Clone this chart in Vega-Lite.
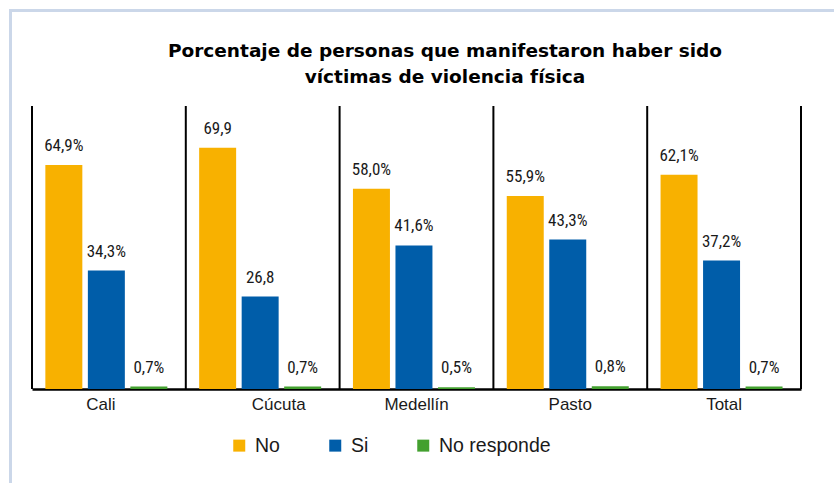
{
  "$schema": "https://vega.github.io/schema/vega-lite/v6.json",
  "width": 828,
  "height": 476,
  "autosize": "none",
  "padding": {"left": 10.5, "top": 10.5, "right": -4.5, "bottom": -3.5},
  "background": "white",
  "config": {
    "view": {"stroke": "#CBD7E9", "strokeWidth": 3},
    "axisX": {
      "title": null, "orient": "bottom", "offset": -97.5, "ticks": false, "grid": false,
      "domainColor": "black", "domainWidth": 2.5,
      "labelFont": "Liberation Sans", "labelFontSize": 17, "labelColor": "#1a1a1a",
      "labelPadding": 7, "labelAngle": 0
    }
  },
  "title": {
    "text": ["Porcentaje de personas que manifestaron haber sido", "víctimas de violencia física"],
    "font": "DejaVu Sans",
    "fontWeight": "bold",
    "fontSize": 18.5,
    "lineHeight": 26,
    "anchor": "middle",
    "frame": "group",
    "offset": -75.5,
    "dx": 20.5,
    "color": "black"
  },
  "datasets": {
    "bars": [
      {"city": "Cali", "cat": "No", "value": 64.9, "label": "64,9%"},
      {"city": "Cali", "cat": "Si", "value": 34.3, "label": "34,3%"},
      {"city": "Cali", "cat": "No responde", "value": 0.7, "label": "0,7%"},
      {"city": "Cúcuta", "cat": "No", "value": 69.9, "label": "69,9"},
      {"city": "Cúcuta", "cat": "Si", "value": 26.8, "label": "26,8"},
      {"city": "Cúcuta", "cat": "No responde", "value": 0.7, "label": "0,7%"},
      {"city": "Medellín", "cat": "No", "value": 58.0, "label": "58,0%"},
      {"city": "Medellín", "cat": "Si", "value": 41.6, "label": "41,6%"},
      {"city": "Medellín", "cat": "No responde", "value": 0.5, "label": "0,5%"},
      {"city": "Pasto", "cat": "No", "value": 55.9, "label": "55,9%"},
      {"city": "Pasto", "cat": "Si", "value": 43.3, "label": "43,3%"},
      {"city": "Pasto", "cat": "No responde", "value": 0.8, "label": "0,8%"},
      {"city": "Total", "cat": "No", "value": 62.1, "label": "62,1%"},
      {"city": "Total", "cat": "Si", "value": 37.2, "label": "37,2%"},
      {"city": "Total", "cat": "No responde", "value": 0.7, "label": "0,7%"}
    ],
    "cities": [
      {"city": "Cali"}, {"city": "Cúcuta"}, {"city": "Medellín"}, {"city": "Pasto"}, {"city": "Total"}
    ],
    "last": [{"city": "Total"}]
  },
  "layer": [
    {
      "data": {"name": "bars"},
      "mark": {"type": "bar"},
      "encoding": {
        "x": {
          "field": "city", "type": "nominal", "title": null,
          "sort": ["Cali", "Cúcuta", "Medellín", "Pasto", "Total"],
          "scale": {"range": [21.5, 790.5], "paddingInner": 0, "paddingOuter": 0},
          "axis": {
            "labelOffset": {"condition": [{"test": "datum.value === 'Cali'", "value": -8}, {"test": "datum.value === 'Cúcuta'", "value": 16}], "value": 0}
          }
        },
        "xOffset": {
          "field": "cat", "type": "nominal", "sort": ["No", "Si", "No responde"],
          "scale": {"paddingInner": 0.13, "paddingOuter": 0.374, "align": 0.42}
        },
        "y": {
          "field": "value", "type": "quantitative",
          "scale": {"domain": [0, 82], "range": [378.5, 95.5], "nice": false},
          "axis": null
        },
        "color": {
          "field": "cat", "type": "nominal",
          "scale": {"domain": ["No", "Si", "No responde"], "range": ["#F8B100", "#005DA9", "#43A02F"]},
          "legend": {
            "title": null, "orient": "none", "legendX": 219, "legendY": 425,
            "direction": "horizontal", "columns": 3,
            "symbolType": "square", "symbolSize": 144, "symbolStrokeWidth": 0,
            "labelFont": "Liberation Sans", "labelFontSize": 19.5, "labelColor": "#1a1a1a",
            "labelOffset": 6, "columnPadding": 45
          }
        }
      }
    },
    {
      "data": {"name": "bars"},
      "mark": {"type": "text", "font": "Liberation Sans Narrow, Roboto Condensed, DejaVu Sans Condensed, Liberation Sans", "fontSize": 17, "fontWeight": "normal", "dy": -19, "baseline": "middle", "color": "#1a1a1a"},
      "encoding": {
        "x": {
          "field": "city", "type": "nominal", "title": null, "sort": ["Cali", "Cúcuta", "Medellín", "Pasto", "Total"],
          "axis": {
            "labelOffset": {"condition": [{"test": "datum.value === 'Cali'", "value": -8}, {"test": "datum.value === 'Cúcuta'", "value": 16}], "value": 0}
          }
        },
        "xOffset": {"field": "cat", "type": "nominal", "sort": ["No", "Si", "No responde"]},
        "y": {"field": "value", "type": "quantitative", "axis": null},
        "text": {"field": "label"}
      }
    },
    {
      "data": {"name": "cities"},
      "mark": {"type": "rule", "color": "black", "strokeWidth": 2},
      "encoding": {
        "x": {
          "field": "city", "type": "nominal", "title": null, "bandPosition": 0, "sort": ["Cali", "Cúcuta", "Medellín", "Pasto", "Total"],
          "axis": {
            "labelOffset": {"condition": [{"test": "datum.value === 'Cali'", "value": -8}, {"test": "datum.value === 'Cúcuta'", "value": 16}], "value": 0}
          }
        },
        "y": {"datum": 0, "type": "quantitative", "axis": null},
        "y2": {"datum": 82}
      }
    },
    {
      "data": {"name": "last"},
      "mark": {"type": "rule", "color": "black", "strokeWidth": 2},
      "encoding": {
        "x": {
          "field": "city", "type": "nominal", "title": null, "bandPosition": 1, "sort": ["Cali", "Cúcuta", "Medellín", "Pasto", "Total"],
          "axis": {
            "labelOffset": {"condition": [{"test": "datum.value === 'Cali'", "value": -8}, {"test": "datum.value === 'Cúcuta'", "value": 16}], "value": 0}
          }
        },
        "y": {"datum": 0, "type": "quantitative", "axis": null},
        "y2": {"datum": 82}
      }
    }
  ]
}
